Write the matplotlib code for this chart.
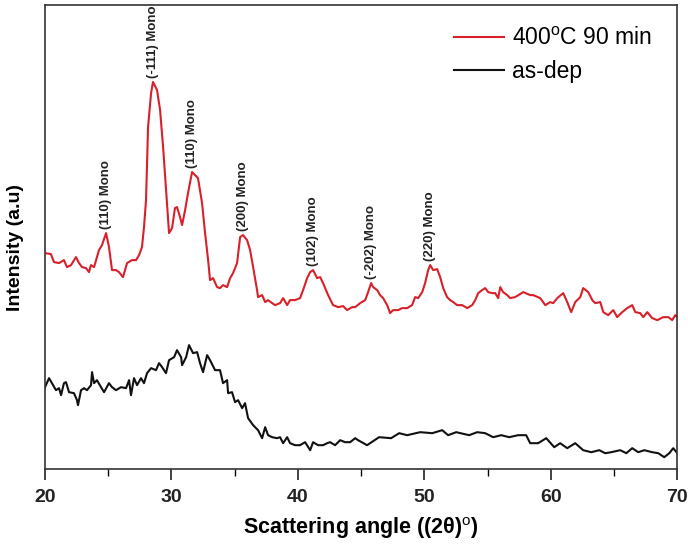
import numpy as np
import matplotlib
matplotlib.use("Agg")
import matplotlib.pyplot as plt
from matplotlib.ticker import MultipleLocator

plt.rcParams['font.family'] = ['Liberation Sans', 'DejaVu Sans']
plt.rcParams['mathtext.fontset'] = 'custom'
plt.rcParams['mathtext.rm'] = 'Liberation Sans'
plt.rcParams['mathtext.bf'] = 'Liberation Sans:bold'

# annealed film, 400 C for 90 min
two_theta_ann = [20.00, 20.47, 20.71, 21.11, 21.50, 21.74, 22.06, 22.45, 22.69, 22.93,
                 23.24, 23.48, 23.64, 23.88, 24.27, 24.51, 24.83, 25.06, 25.30, 25.62,
                 25.85, 26.17, 26.49, 26.88, 27.20, 27.44, 27.67, 27.83, 27.99, 28.15,
                 28.39, 28.54, 28.86, 29.10, 29.34, 29.65, 29.81, 30.05, 30.28, 30.44,
                 30.68, 30.84, 31.08, 31.31, 31.63, 31.87, 32.10, 32.42, 32.66, 32.90,
                 33.05, 33.29, 33.61, 33.84, 34.08, 34.40, 34.64, 34.87, 35.19, 35.43,
                 35.66, 35.98, 36.22, 36.46, 36.77, 36.85, 37.17, 37.41, 37.64, 37.96,
                 38.20, 38.59, 38.83, 39.15, 39.38, 39.78, 40.17, 40.41, 40.73, 40.97,
                 41.20, 41.52, 41.76, 41.99, 42.39, 42.78, 43.18, 43.58, 43.89, 44.29,
                 44.53, 44.92, 45.32, 45.55, 45.79, 45.95, 46.27, 46.50, 46.74, 47.06,
                 47.29, 47.53, 47.93, 48.24, 48.64, 49.03, 49.27, 49.51, 49.83, 50.06,
                 50.30, 50.46, 50.70, 51.01, 51.25, 51.49, 51.80, 52.04, 52.28, 52.59,
                 52.99, 53.39, 53.78, 54.02, 54.26, 54.57, 54.81, 55.05, 55.36, 55.60,
                 55.84, 56.00, 56.23, 56.55, 56.79, 57.18, 57.82, 58.37, 58.61, 59.16,
                 59.56, 59.95, 60.19, 60.51, 60.98, 61.30, 61.61, 61.93, 62.33, 62.56,
                 62.96, 63.28, 63.51, 63.91, 64.15, 64.54, 64.94, 65.25, 65.65, 66.04,
                 66.44, 66.68, 67.07, 67.31, 67.63, 68.02, 68.42, 68.89, 69.29, 69.60,
                 69.84, 70.00]
counts_ann = [216, 215, 207, 206, 209, 202, 204, 212, 206, 202,
              201, 197, 204, 202, 219, 224, 236, 222, 199, 199,
              197, 192, 206, 209, 209, 214, 222, 242, 269, 342,
              376, 387, 379, 359, 322, 266, 236, 241, 261, 262,
              252, 244, 259, 276, 297, 294, 291, 266, 236, 209,
              189, 191, 182, 181, 184, 182, 191, 196, 206, 232,
              234, 229, 219, 202, 179, 172, 174, 167, 169, 166,
              164, 166, 171, 164, 169, 169, 171, 179, 191, 197,
              199, 191, 192, 186, 174, 164, 162, 163, 159, 162,
              162, 166, 169, 177, 186, 182, 179, 174, 171, 164,
              156, 159, 159, 161, 161, 164, 172, 171, 177, 186,
              199, 204, 199, 200, 192, 181, 172, 169, 167, 164,
              164, 161, 164, 169, 176, 179, 181, 177, 176, 176,
              171, 182, 177, 174, 171, 172, 177, 174, 174, 171,
              164, 167, 166, 171, 176, 167, 157, 167, 172, 181,
              177, 169, 166, 167, 157, 154, 159, 152, 157, 161,
              164, 157, 156, 152, 157, 151, 149, 152, 152, 149,
              154, 152]

# as-deposited film
two_theta_dep = [20.00, 20.32, 20.55, 20.87, 21.11, 21.27, 21.50, 21.66, 21.90, 22.29,
                 22.53, 22.61, 22.85, 23.09, 23.32, 23.64, 23.72, 23.88, 24.11, 24.43,
                 24.67, 25.06, 25.30, 25.62, 26.01, 26.41, 26.65, 26.80, 27.04, 27.28,
                 27.59, 27.83, 28.07, 28.39, 28.78, 29.02, 29.26, 29.57, 29.81, 30.21,
                 30.44, 30.76, 30.84, 31.16, 31.39, 31.71, 32.03, 32.26, 32.50, 32.82,
                 33.05, 33.45, 33.84, 34.08, 34.40, 34.48, 34.79, 35.03, 35.27, 35.59,
                 35.82, 36.06, 36.46, 36.85, 37.17, 37.41, 37.64, 37.96, 38.35, 38.59,
                 38.83, 39.15, 39.38, 39.78, 40.17, 40.57, 40.97, 41.20, 41.60, 41.99,
                 42.31, 42.55, 42.94, 43.34, 43.73, 44.13, 44.53, 44.76, 45.47, 46.42,
                 47.37, 48.01, 48.64, 49.67, 50.62, 51.41, 51.88, 52.52, 53.54, 54.18,
                 54.81, 55.44, 56.08, 56.71, 57.42, 58.05, 58.37, 59.00, 59.64, 60.27,
                 60.74, 61.30, 61.93, 62.56, 63.20, 63.83, 64.30, 64.78, 65.49, 65.97,
                 66.44, 66.91, 67.39, 68.02, 68.50, 68.97, 69.37, 69.68, 70.00]
counts_dep = [82, 91, 86, 79, 81, 74, 86, 87, 77, 76,
              69, 64, 79, 81, 79, 84, 97, 86, 89, 82,
              77, 86, 82, 79, 82, 81, 89, 74, 91, 84,
              91, 86, 96, 101, 99, 106, 102, 96, 109, 112,
              119, 112, 104, 112, 124, 116, 117, 106, 97, 114,
              109, 99, 99, 86, 89, 76, 77, 67, 69, 61,
              66, 51, 44, 39, 31, 42, 34, 32, 31, 32,
              26, 32, 26, 24, 24, 27, 19, 27, 24, 24,
              26, 27, 24, 29, 27, 27, 31, 29, 24, 32,
              31, 36, 34, 37, 36, 39, 34, 37, 34, 37,
              36, 32, 34, 32, 34, 34, 26, 26, 31, 22,
              26, 21, 26, 19, 17, 19, 16, 17, 19, 16,
              21, 17, 19, 17, 16, 12, 16, 21, 16]

# indexed reflections of the monoclinic phase
peak_pos = [24.83, 28.54, 31.63, 35.66, 41.20, 45.79, 50.46]
peak_labels = ['(110) Mono', '(-111) Mono', '(110) Mono', '(200) Mono',
               '(102) Mono', '(-202) Mono', '(220) Mono']

fig = plt.figure(figsize=(6.88, 5.52), dpi=100)
ax = fig.add_axes([0.0654, 0.150, 0.919, 0.841])

ax.plot(two_theta_ann, counts_ann, color='#d8202a', lw=1.5, label=r'400$^{\rm o}$C 90 min')
ax.plot(two_theta_dep, counts_dep, color='#111111', lw=1.5, label='as-dep')

xa = np.array(two_theta_ann)
ya = np.array(counts_ann)
for pos, txt in zip(peak_pos, peak_labels):
    y = ya[np.argmin(np.abs(xa - pos))]
    ax.annotate(txt, xy=(pos, y), xytext=(0, 3), textcoords='offset points',
                rotation=90, ha='center', va='bottom', fontsize=9.5,
                fontweight='bold', color='#222222')

ax.set_xlim(20, 70)
ax.set_ylim(0, 464)
ax.xaxis.set_major_locator(MultipleLocator(10))
ax.xaxis.set_minor_locator(MultipleLocator(5))
ax.tick_params(axis='x', which='major', direction='out', length=8, width=1.2,
               labelsize=14, pad=6, colors='#222222')
ax.tick_params(axis='x', which='minor', direction='out', length=5, width=1.0)
for lab in ax.get_xticklabels():
    lab.set_fontweight('bold')
ax.set_yticks([])
for sp in ax.spines.values():
    sp.set_linewidth(1.2)
    sp.set_color('#333333')

ax.set_xlabel('Scattering angle ((2\u03b8)$^{\\rm o}$)', fontsize=15.5,
              fontweight='bold', labelpad=7)
ax.set_ylabel('Intensity (a.u)', fontsize=14, fontweight='bold')
ax.yaxis.set_label_coords(-0.033, 0.477)

ax.legend(loc='upper right', bbox_to_anchor=(0.975, 0.973), borderaxespad=0,
          frameon=False, fontsize=16.5, handlelength=2.2,
          handletextpad=0.35, labelspacing=0.45)

fig.savefig('out.png', dpi=100)
